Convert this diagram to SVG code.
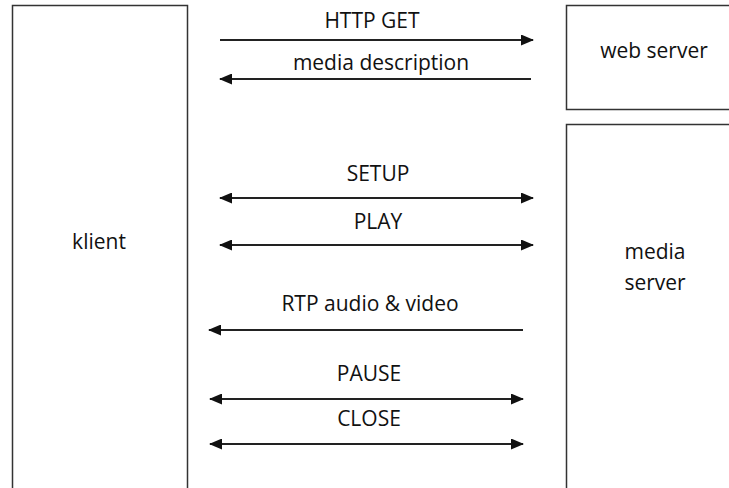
<svg xmlns="http://www.w3.org/2000/svg" width="729" height="488" viewBox="0 0 729 488">
  <style>
    .box { fill: #ffffff; stroke: #333333; stroke-width: 1.5; }
    .lbl { font-family: "Open Sans", "Noto Sans", sans-serif; font-size: 21px; fill: #111111; text-anchor: middle; }
    .msg { stroke: #222222; stroke-width: 2; fill: none; }
  </style>
  <defs>
    <marker id="head" viewBox="0 0 13 11" refX="12" refY="5.5" markerWidth="13" markerHeight="11" markerUnits="userSpaceOnUse" orient="auto-start-reverse">
      <path d="M0,0 L13,5.5 L0,11 Z" fill="#111111"/>
    </marker>
  </defs>
  <rect width="729" height="488" fill="#ffffff"/>

  <g id="klient">
    <rect class="box" x="12.5" y="5.5" width="175" height="500"/>
    <text class="lbl" x="99" y="249">klient</text>
  </g>

  <g id="web-server">
    <rect class="box" x="566.5" y="5.5" width="180" height="104"/>
    <text class="lbl" x="654" y="58">web server</text>
  </g>

  <g id="media-server">
    <rect class="box" x="566.5" y="124.5" width="180" height="380"/>
    <text class="lbl" x="655" y="259">media</text>
    <text class="lbl" x="655" y="290">server</text>
  </g>

  <g id="connectors">
    <line class="msg" x1="220" y1="40" x2="533" y2="40" marker-end="url(#head)"/>
    <text class="lbl" x="372" y="28">HTTP GET</text>

    <line class="msg" x1="531" y1="79" x2="220" y2="79" marker-end="url(#head)"/>
    <text class="lbl" x="381" y="70">media description</text>

    <line class="msg" x1="220" y1="198" x2="533" y2="198" marker-start="url(#head)" marker-end="url(#head)"/>
    <text class="lbl" x="378" y="181">SETUP</text>

    <line class="msg" x1="220" y1="245" x2="533" y2="245" marker-start="url(#head)" marker-end="url(#head)"/>
    <text class="lbl" x="378" y="229">PLAY</text>

    <line class="msg" x1="523" y1="330" x2="209" y2="330" marker-end="url(#head)"/>
    <text class="lbl" x="370" y="311">RTP audio &amp; video</text>

    <line class="msg" x1="210" y1="399" x2="523" y2="399" marker-start="url(#head)" marker-end="url(#head)"/>
    <text class="lbl" x="369" y="381">PAUSE</text>

    <line class="msg" x1="210" y1="444" x2="523" y2="444" marker-start="url(#head)" marker-end="url(#head)"/>
    <text class="lbl" x="369" y="426">CLOSE</text>
  </g>
</svg>
